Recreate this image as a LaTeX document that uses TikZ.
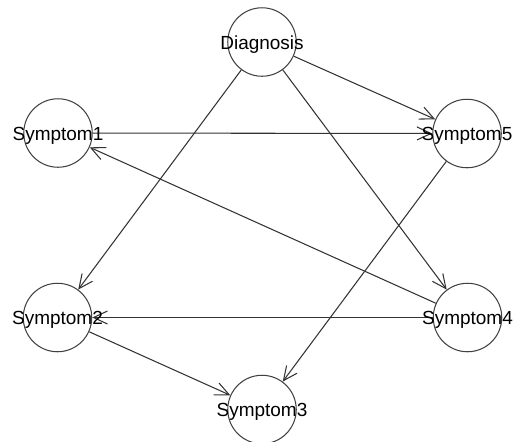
\documentclass[tikz,border=0pt]{standalone}
\usepackage{fontspec}
\setmainfont{Liberation Sans}
\usetikzlibrary{arrows.meta}
\tikzset{
	vertex/.style={circle, draw=black!75, line width=0.6pt, minimum size=1.37cm, inner sep=0pt},
	edge/.style={draw=black!80, line width=0.6pt, -{Straight Barb[length=2.8mm,width=2.6mm]}},
	vlabel/.style={yshift=-1.6pt},
}
\begin{document}
\begin{tikzpicture}[x=0.02cm,y=-0.02cm]
		\newcommand{\myfontnames}[1]{
			\fontsize{10.8}{13}\selectfont{#1}
		}%Frame of the picture
		\useasboundingbox (0,0) rectangle (513,441);
		%Centres of the circles
		\coordinate (cdiag) at (262,42);
		\coordinate (csym1) at (58,133);
		\coordinate (csym2) at (57.5,317.5);
		\coordinate (csym3) at (262,409.5);
		\coordinate (csym4) at (467.5,317.5);
		\coordinate (csym5) at (467,133.5);
		%The circles
		\node [vertex] (diag) at (cdiag) {};
		\node [vertex] (sym1) at (csym1) {};
		\node [vertex] (sym2) at (csym2) {};
		\node [vertex] (sym3) at (csym3) {};
		\node [vertex] (sym4) at (csym4) {};
		\node [vertex] (sym5) at (csym5) {};
		%Arrows from the diagnosis
		\draw [edge] (diag) -- (sym5);
		\draw [edge] (diag) -- (sym2);
		\draw [edge] (diag) -- (sym4);
		%Arrows between the symptoms
		\draw [edge] (sym1) -- (sym5);
		\draw [edge] (sym4) -- (sym1);
		\draw [edge] (sym5) -- (sym3);
		\draw [edge] (sym4) -- (sym2);
		\draw [edge] (sym2) -- (sym3);
		%Names in the circles
		\node [vlabel] (ldiag) at (cdiag) {\myfontnames{Diagnosis}};
		\node [vlabel] (lsym1) at (csym1) {\myfontnames{Symptom1}};
		\node [vlabel] (lsym2) at (csym2) {\myfontnames{Symptom2}};
		\node [vlabel] (lsym3) at (csym3) {\myfontnames{Symptom3}};
		\node [vlabel] (lsym4) at (csym4) {\myfontnames{Symptom4}};
		\node [vlabel] (lsym5) at (csym5) {\myfontnames{Symptom5}};
\end{tikzpicture}
\end{document}
